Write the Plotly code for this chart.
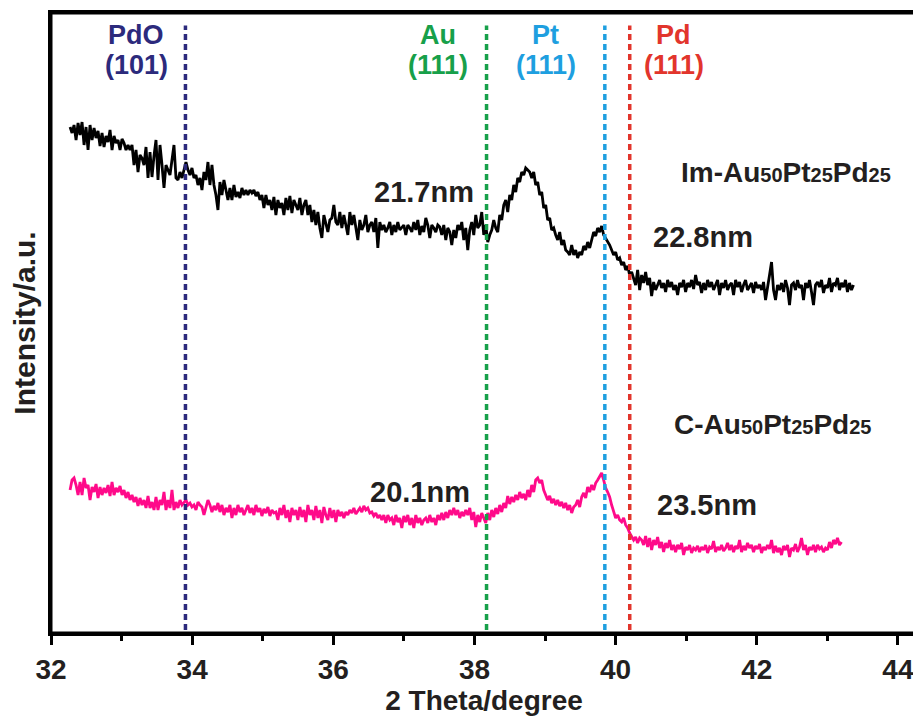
import numpy as np
import plotly.graph_objects as go

# ---- data (2θ in degrees, intensity in arbitrary units) ----
im_start, im_end = 32.27, 43.37
im_intensity = [
    873, 867, 875, 860, 877, 865, 878, 855, 873, 850, 875, 860, 872, 862, 869, 854, 867, 853, 864, 858,
    870, 850, 864, 857, 860, 850, 861, 857, 850, 855, 850, 855, 835, 850, 828, 845, 842, 835, 853, 822,
    848, 823, 844, 860, 820, 855, 835, 812, 835, 830, 825, 840, 855, 822, 820, 828, 822, 830, 838, 830,
    825, 832, 822, 825, 815, 822, 810, 828, 820, 838, 815, 835, 815, 805, 790, 818, 805, 820, 810, 800,
    812, 800, 815, 803, 808, 802, 812, 805, 810, 805, 810,
    807, 810, 804, 808, 800, 805, 792, 805, 795, 800, 790, 803, 785, 800, 792, 797, 785, 802, 790, 804,
    787, 800, 795, 790, 802, 785, 795, 800, 785, 795, 778, 790, 775, 788, 772, 762, 785, 775, 768, 780,
    782, 795, 778, 775, 788, 772, 785, 775, 765, 788, 775, 785, 770, 760, 780, 770, 775, 785, 768, 775,
    778, 768, 782, 752, 778, 770, 775, 768, 772, 778, 765, 775, 768, 778, 770, 772, 775, 765, 775, 772,
    768, 778, 770, 780, 765, 774, 768, 782, 775, 762, 775, 772, 768, 775, 773,
    765, 775, 760, 772, 768, 755, 770, 762, 775, 770, 778, 760, 772, 750, 770, 778, 765, 785, 772, 775,
    788, 765, 775, 758, 765, 770, 780, 772, 768, 785, 780, 795, 800, 788, 805, 800, 815, 808, 822, 818,
    828, 825, 832, 830, 828, 822, 828, 815, 818, 805, 808, 792, 795, 780, 782, 770, 772, 765, 760, 768,
    755, 760, 750, 748, 745, 755, 745, 750, 742, 748, 745, 754, 750, 758, 752, 760, 768, 764, 772, 768,
    774, 765, 762, 758, 755, 750, 745, 748, 740, 742, 735, 738, 730, 734, 725, 728,
    720, 715, 730, 710, 725, 717, 728, 715, 722, 704, 718, 710, 715, 720, 712, 717, 708, 720, 713, 718,
    710, 715, 705, 717, 713, 720, 708, 717, 713, 720, 711, 725, 715, 718, 707, 717, 710, 720, 713, 718,
    710, 715, 720, 705, 717, 712, 720, 710, 715, 717, 705, 720, 713, 718, 708, 715, 720, 710, 713, 717,
    707, 718, 712, 715, 710, 718, 700, 715, 725, 738, 710, 700, 715, 710, 717, 708, 720, 712, 695, 715,
    717, 710, 720, 712, 715, 700, 717, 712, 720, 708, 695, 715, 718, 713, 720, 707, 715, 712, 722, 708,
    717, 715, 722, 710, 717, 713, 720, 708, 717, 710, 715,
]

c_start, c_end = 32.27, 43.20
c_intensity = [
    510, 520, 522, 515, 505, 518, 505, 522, 512, 515, 500, 513, 508, 516, 502, 513, 505, 512, 507, 515,
    504, 518, 505, 512, 508, 514, 505, 510, 502, 508, 500, 505, 498, 503, 494, 502, 495, 500, 492, 504,
    492, 498, 490, 503, 490, 500, 495, 508, 490, 500, 492, 510, 490, 498, 492, 500, 495, 497, 500, 495,
    497, 493, 495, 490, 498, 495, 493, 485, 492, 500, 495, 488, 494, 490, 497, 488, 495, 485, 492, 488,
    495, 482, 492, 485, 495, 488, 492, 485, 490, 495, 487, 492, 485, 495, 488, 492, 484, 491, 487, 493,
    484, 490, 487,
    488, 480, 492, 485, 495, 482, 490, 478, 492, 485, 490, 480, 493, 483, 490, 478, 495, 485, 490, 480,
    494, 482, 490, 477, 493, 485, 480, 492, 482, 490, 478, 490, 484, 488, 482, 488, 485, 490, 487, 492,
    486, 489, 492, 488, 494, 490, 492, 487, 488, 484, 487, 482, 485, 480, 485, 477, 485, 480, 482, 475,
    485, 478, 482, 472, 484, 478, 485, 475, 482, 472, 485, 477, 482, 475, 480, 482, 477, 485, 478, 482,
    475, 485, 480, 487, 480, 488, 482, 490, 485, 492, 485, 490, 482, 488, 484, 490, 485, 492, 480, 488,
    473, 485, 478, 487, 482,
    477, 487, 480, 490, 483, 492, 486, 495, 488, 497, 492, 504, 496, 503, 498, 505, 500, 508, 502, 506,
    500, 510, 503, 515, 508, 520, 522, 517, 520, 510, 505, 500, 504, 497, 501, 495, 500, 494, 498, 492,
    497, 490, 495, 487, 493, 495, 500, 493, 503, 507, 502, 513, 508, 515, 510, 517, 520, 524, 527, 520,
    512, 508, 503, 495, 488, 482, 485, 480, 478, 482, 475, 472, 467, 463, 460, 463, 457, 462,
    460, 455, 464, 453, 462, 450, 460, 455, 463, 452, 458, 448, 457, 452, 460, 450, 455, 448, 455, 451,
    457, 445, 453, 450, 455, 447, 452, 450, 454, 448, 453, 450, 455, 447, 453, 451, 459, 448, 453, 450,
    455, 449, 452, 457, 450, 455, 448, 454, 451, 460, 448, 454, 450, 457, 452, 455, 448, 454, 451, 456,
    447, 453, 450, 455, 451, 460, 447, 454, 448, 452, 445, 454, 450, 455, 443, 452, 450, 456, 448, 453,
    462, 450, 455, 445, 453, 450, 455, 448, 455, 451, 453, 448, 452, 450, 458, 452, 460, 456, 462, 455,
    458,
]

# uniform 2θ scan grids of the two measurements
im_two_theta = np.linspace(im_start, im_end, len(im_intensity))
c_two_theta = np.linspace(c_start, c_end, len(c_intensity))

ref_names = ["PdO", "Au", "Pt", "Pd"]
ref_planes = ["(101)", "(111)", "(111)", "(111)"]
ref_positions = [33.905, 38.171, 39.847, 40.20]
ref_label_x = [33.21, 37.48, 39.01, 40.82]
ref_colors = ["#2c2a7c", "#17a04a", "#1e9fe0", "#e2352c"]

size_labels = ["21.7nm", "22.8nm", "20.1nm", "23.5nm"]
size_label_x = [37.28, 41.24, 37.23, 41.29]
size_label_y = [808, 763, 508, 495]

sub = "<span style='font-size:20px'>%s</span>"
sample_labels = ["Im-Au" + sub % "50" + "Pt" + sub % "25" + "Pd" + sub % "25",
                 "C-Au" + sub % "50" + "Pt" + sub % "25" + "Pd" + sub % "25"]
sample_label_x = [42.41, 42.22]
sample_label_y = [828, 576]

x_ticks = [32, 34, 36, 38, 40, 42, 44]

FONT = "Liberation Sans, Arial, sans-serif"

fig = go.Figure()
fig.add_trace(go.Scatter(x=im_two_theta, y=im_intensity, mode="lines",
                         line=dict(color="#000000", width=2.8), showlegend=False))
fig.add_trace(go.Scatter(x=c_two_theta, y=c_intensity, mode="lines",
                         line=dict(color="#ff0a8a", width=2.8), showlegend=False))

for pos, col in zip(ref_positions, ref_colors):
    fig.add_shape(type="line", xref="x", yref="paper", x0=pos, x1=pos, y0=0.005, y1=0.98,
                  line=dict(color=col, width=3.5, dash="6px,4px"))

# plot frame
fig.add_shape(type="rect", xref="paper", yref="paper", x0=0, x1=1, y0=0, y1=1,
              line=dict(color="black", width=3), fillcolor="rgba(0,0,0,0)", layer="above")

for name, plane, lx, col in zip(ref_names, ref_planes, ref_label_x, ref_colors):
    fig.add_annotation(x=lx, y=965, text="<b>%s</b>" % name, showarrow=False,
                       font=dict(family=FONT, size=27, color=col), xanchor="center", yanchor="middle")
    fig.add_annotation(x=lx, y=935, text="<b>%s</b>" % plane, showarrow=False,
                       font=dict(family=FONT, size=27, color=col), xanchor="center", yanchor="middle")

for t, lx, ly in zip(size_labels, size_label_x, size_label_y):
    fig.add_annotation(x=lx, y=ly, text="<b>%s</b>" % t, showarrow=False,
                       font=dict(family=FONT, size=29, color="#231f20"), xanchor="center", yanchor="middle")

for t, lx, ly in zip(sample_labels, sample_label_x, sample_label_y):
    fig.add_annotation(x=lx, y=ly, text="<b>%s</b>" % t, showarrow=False,
                       font=dict(family=FONT, size=28, color="#231f20"), xanchor="center", yanchor="middle")

# the page body adds an 8px offset, so the figure is 8px smaller than the window
fig.update_layout(
    width=913, height=712,
    margin=dict(l=43, r=4, t=5, b=87),
    paper_bgcolor="white", plot_bgcolor="white",
    font=dict(family=FONT, color="#231f20"),
    xaxis=dict(range=[32, 44.27], tickvals=x_ticks, ticktext=[str(v) for v in x_ticks],
               automargin=False,
               ticks="outside", ticklen=9, tickwidth=3, tickcolor="black",
               minor=dict(dtick=1, tick0=33, ticks="outside", ticklen=5, tickwidth=3, tickcolor="black"),
               showline=True, linewidth=3, linecolor="black", mirror=True,
               showgrid=False, zeroline=False,
               tickfont=dict(family=FONT, size=28, color="#231f20", weight="bold"),
               title=dict(text="<b>2 Theta/degree</b>", standoff=4,
                          font=dict(family=FONT, size=28, color="#231f20"))),
    yaxis=dict(range=[367, 987], showticklabels=False, ticks="", automargin=False,
               showline=True, linewidth=3, linecolor="black", mirror=True,
               showgrid=False, zeroline=False,
               title=dict(text="<b>Intensity/a.u.</b>", standoff=6,
                          font=dict(family=FONT, size=30, color="#231f20"))),
)

fig.write_html("out.html")
